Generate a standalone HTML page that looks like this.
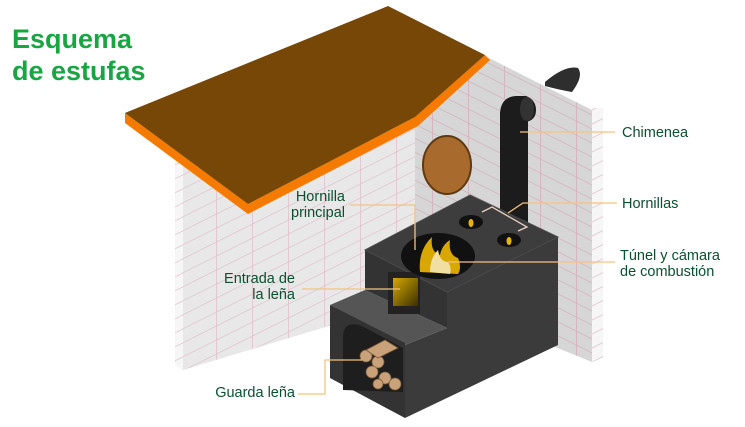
<!DOCTYPE html>
<html><head><meta charset="utf-8"><style>
body{margin:0;background:#fff;width:745px;height:422px;overflow:hidden;font-family:"Liberation Sans",sans-serif}
</style></head><body>
<svg width="745" height="422" viewBox="0 0 745 422" xmlns="http://www.w3.org/2000/svg">
<defs>
<pattern id="bl" width="36" height="14" patternUnits="userSpaceOnUse" patternTransform="skewY(-26.6)">
<rect width="36" height="14" fill="#e8e8e8"/><path d="M0 0.5H36M0.5 0V14" stroke="#dfc0cc" stroke-width="0.8"/></pattern>
<pattern id="br" width="36" height="14" patternUnits="userSpaceOnUse" patternTransform="skewY(26.6)">
<rect width="36" height="14" fill="#d6d6d6"/><path d="M0 0.5H36M0.5 0V14" stroke="#d4afbd" stroke-width="0.8"/></pattern>
<pattern id="be" width="11" height="14" patternUnits="userSpaceOnUse" patternTransform="skewY(-26.6)">
<rect width="11" height="14" fill="#f6f6f6"/><path d="M0 0.5H11" stroke="#dfc0cc" stroke-width="0.8"/></pattern>
<linearGradient id="gl" x1="0" y1="0" x2="1" y2="1"><stop offset="0" stop-color="#d4a800"/><stop offset="1" stop-color="#3a3000"/></linearGradient>
</defs>
<polygon points="175,125 415,40 415,300 183,370 175,365" fill="url(#bl)"/>
<polygon points="175,128 183,124 183,370 175,365" fill="url(#be)"/>
<polygon points="415,20 485,56 592,110 592,362 415,290" fill="url(#br)"/>
<polygon points="592,108 603,108 603,358 592,362" fill="url(#be)"/>
<path d="M545,82 Q565,65 578,68 Q584,76 572,92 Q560,90 545,86Z" fill="#2e2e2e"/>
<polygon points="125,113 125,123 248,214 418,126 490,60 485,55 415,117 248,204" fill="#f47a00"/>
<polygon points="125,113 388,6 485,55 415,117 248,204" fill="#774707"/>
<ellipse cx="447" cy="165" rx="24" ry="29" fill="#a96a2e" stroke="#5e3a12" stroke-width="2"/>
<rect x="500" y="112" width="28" height="115" fill="#1c1c1c"/>
<path d="M500,115 Q500,97 516,96 L526,96 Q536,100 536,110 Q536,120 526,122 L528,122 L528,130 L500,130Z" fill="#1c1c1c"/>
<ellipse cx="527" cy="109" rx="7" ry="12" fill="#333"/>
<polygon points="447,292 558,237 558,345 405,418 405,345 447,328" fill="#3b3b3b"/>
<polygon points="365,250 447,292 447,328 365,290" fill="#333"/>
<polygon points="365,250 470,195 558,237 447,292" fill="#3d3d3d" stroke="#4a4a4a" stroke-width="1"/>
<polygon points="330,305 365,290 447,328 405,345" fill="#555"/>
<polygon points="330,305 405,343 405,418 330,378" fill="#333"/>
<path d="M343,390 L343,335 Q345,320 362,326 L403,348 L403,392 Z" fill="#1e1e1e"/>
<g fill="#c9a27a" stroke="#7a5a3a" stroke-width="0.8">
<circle cx="366" cy="356" r="6"/><circle cx="378" cy="362" r="6"/><circle cx="372" cy="372" r="6"/><circle cx="385" cy="378" r="6"/><circle cx="378" cy="384" r="5"/><circle cx="395" cy="384" r="6"/>
<polygon points="366,350 385,340 398,348 378,358"/>
</g>
<rect x="388" y="272" width="32" height="42" fill="#222"/>
<rect x="393" y="278" width="25" height="28" fill="url(#gl)"/>
<ellipse cx="438" cy="256" rx="37" ry="23" fill="#111"/>
<path d="M420,272 Q418,250 432,237 Q430,252 440,255 Q442,245 450,240 Q448,255 458,258 Q462,268 458,274 Z" fill="#d9a800"/>
<path d="M430,272 Q430,258 438,250 Q440,262 448,262 Q452,268 450,274 Z" fill="#f0dfa0"/>
<ellipse cx="471" cy="222" rx="12" ry="7" fill="#111"/>
<ellipse cx="509" cy="240" rx="12" ry="7" fill="#111"/>
<ellipse cx="471" cy="223" rx="2.5" ry="4" fill="#e8b400"/>
<ellipse cx="509" cy="241" rx="2.5" ry="4" fill="#e8b400"/>
<g stroke="#f6c27c" stroke-width="1.3" fill="none">
<path d="M520,132H615"/>
<path d="M617,203H523L508,213"/>
<path d="M482,212L492,207L527,227L518,231" stroke="#e8d0c0"/>
<path d="M448,262H615"/>
<path d="M350,205H415V250"/>
<path d="M302,289H400"/>
<path d="M298,394H325V360H362"/>
</g>
<g font-family="Liberation Sans, sans-serif" font-weight="bold" fill="#1aa543" font-size="27">
<text x="12" y="48">Esquema</text><text x="12" y="80">de estufas</text></g>
<g font-family="Liberation Sans, sans-serif" fill="#0c4f30" font-size="14.5">
<text x="622" y="137">Chimenea</text>
<text x="622" y="208">Hornillas</text>
<text x="620" y="260">Túnel y cámara</text>
<text x="620" y="276">de combustión</text>
<text x="345" y="201" text-anchor="end">Hornilla</text>
<text x="345" y="217" text-anchor="end">principal</text>
<text x="295" y="283" text-anchor="end">Entrada de</text>
<text x="295" y="299" text-anchor="end">la leña</text>
<text x="295" y="397" text-anchor="end">Guarda leña</text>
</g>
</svg>
</body></html>
